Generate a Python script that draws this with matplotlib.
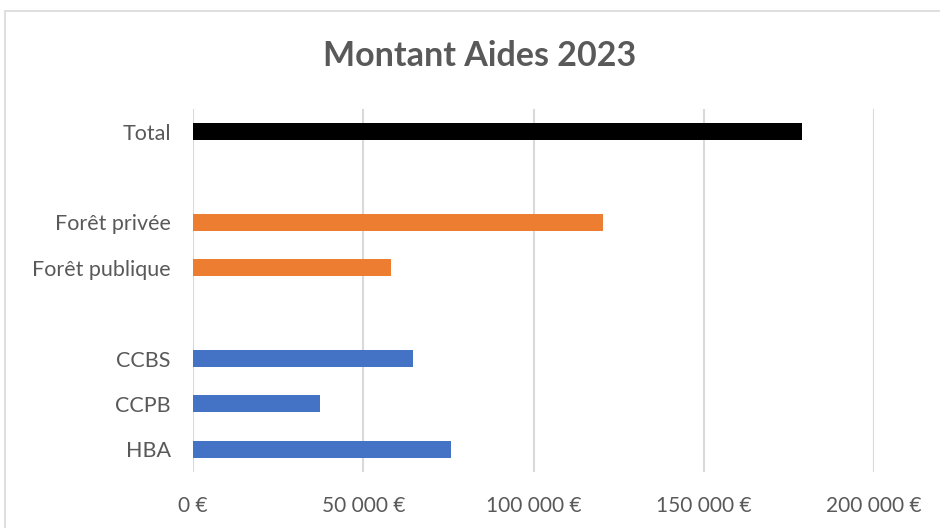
import matplotlib.pyplot as plt
from matplotlib.patches import Rectangle
from matplotlib.ticker import FuncFormatter

# categories from bottom to top, blanks are the gaps between groups
labels = ['HBA', 'CCPB', 'CCBS', '', 'Forêt publique', 'Forêt privée', '', 'Total']
values = [75900, 37400, 64700, 0, 58200, 120300, 0, 179000]
colors = ['#4472C4', '#4472C4', '#4472C4', 'none', '#ED7D31', '#ED7D31', 'none', '#000000']
xticks = [0, 50000, 100000, 150000, 200000]

plt.rcParams['font.family'] = ['Lato', 'DejaVu Sans']
grey = '#595959'

fig = plt.figure(figsize=(9.4, 5.28), dpi=100)
fig.patches.append(Rectangle((5 / 940, -0.1), 1.1, 1 - 11 / 528 + 0.1, transform=fig.transFigure,
                             fill=False, edgecolor='#d9d9d9', linewidth=1.2))

ax = fig.add_axes([193 / 940, 1 - 472 / 528, (874 - 193) / 940, (472 - 109) / 528])
pos = list(range(len(labels)))
ax.barh(pos, values, height=0.375, color=colors, zorder=3)

ax.set_xlim(0, 200000)
ax.set_ylim(-0.5, len(labels) - 0.5)
ax.set_xticks(xticks)
ax.xaxis.set_major_formatter(FuncFormatter(lambda v, p: f'{int(v):,}'.replace(',', ' ') + ' €'))
ax.set_yticks(pos)
ax.set_yticklabels(labels)
ax.tick_params(axis='x', length=0, pad=17, labelsize=15, labelcolor=grey)
ax.tick_params(axis='y', length=0, pad=16, labelsize=15.5, labelcolor=grey)
ax.grid(axis='x', color='#d9d9d9', linewidth=1.5, zorder=0)
for s in ax.spines.values():
    s.set_visible(False)

fig.text(0.51, 1 - 56 / 528, 'Montant Aides 2023', ha='center', va='center',
         fontsize=24.5, fontweight='bold', color=grey)

fig.savefig('out.png', dpi=100)
